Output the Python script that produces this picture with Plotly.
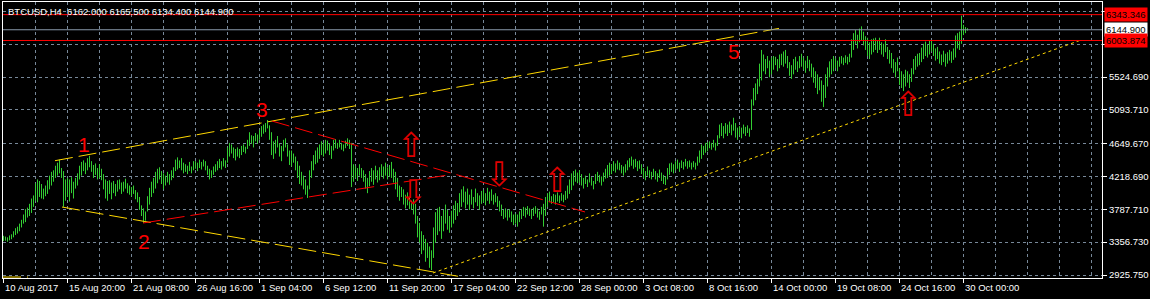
import plotly.graph_objects as go

# ---------------- data ----------------
bar_low = [
    3370, 3375, 3362, 3380, 3395, 3420, 3450, 3470, 3500, 3550, 3600, 3620, 3680, 3700, 3740, 3820,
    3900, 3880, 3950, 3930, 3920, 3960, 3990, 4050, 4100, 4150, 4200, 4230, 4260, 4200, 3820, 3900,
    3950, 3890, 4000, 3930, 4060, 4100, 4180, 4230, 4290, 4250, 4300, 4340, 4280, 4200, 4240, 4180,
    4200, 4170, 4050, 3930, 3900, 3990, 3920, 4000, 3960, 4020, 4050, 3990, 4020, 4060, 4000, 3980,
    3960, 3990, 3920, 3880, 3780, 3700, 3608, 3640, 3760, 3850, 3950, 4000, 4060, 4130, 4180, 4120,
    4050, 4100, 4140, 4110, 4170, 4200, 4290, 4310, 4330, 4300, 4260, 4280, 4250, 4290, 4260, 4300,
    4320, 4290, 4330, 4310, 4350, 4300, 4240, 4180, 4200, 4240, 4280, 4300, 4330, 4310, 4350, 4330,
    4400, 4480, 4520, 4460, 4430, 4480, 4460, 4500, 4540, 4520, 4580, 4620, 4650, 4600, 4680, 4650,
    4700, 4740, 4780, 4800, 4850, 4700, 4500, 4450, 4520, 4600, 4480, 4420, 4550, 4600, 4480, 4370,
    4350, 4400, 4300, 4200, 4120, 4100, 4050, 3980, 3937, 4050, 4200, 4300, 4380, 4400, 4450, 4500,
    4480, 4520, 4560, 4500, 4450, 4560, 4590, 4580, 4600, 4570, 4550, 4590, 4620, 4580, 4080, 4150,
    4200, 4160, 4230, 4200, 4150, 4060, 4000, 4090, 4150, 4110, 4180, 4140, 4170, 4220, 4190, 4230,
    4180, 4220, 4200, 4140, 4050, 3950, 3900, 3950, 3850, 3800, 3840, 3790, 3780, 3720, 3600, 3420,
    3350, 3200, 3250, 3100, 3150, 3020, 2991, 3150, 3350, 3450, 3500, 3400, 3500, 3600, 3520, 3480,
    3550, 3600, 3650, 3700, 3750, 3820, 3880, 3800, 3850, 3780, 3850, 3800, 3880, 3830, 3780, 3860,
    3880, 3840, 3900, 3860, 3900, 3850, 3880, 3820, 3760, 3700, 3660, 3680, 3640, 3680, 3620, 3580,
    3600, 3560, 3620, 3660, 3700, 3680, 3720, 3700, 3660, 3700, 3730, 3680, 3650, 3720, 3560, 3700,
    3820, 3880, 3860, 3880, 3850, 3890, 3870, 3900, 3880, 3910, 3930, 3990, 4040, 4100, 4150, 4130,
    4140, 4100, 4060, 4120, 4080, 4140, 4100, 4050, 4120, 4160, 4140, 4100, 4150, 4190, 4200, 4230,
    4250, 4290, 4270, 4310, 4300, 4260, 4230, 4270, 4300, 4340, 4360, 4320, 4340, 4290, 4320, 4250,
    4200, 4170, 4230, 4200, 4180, 4220, 4180, 4150, 4200, 4160, 4120, 4107, 4180, 4240, 4280, 4260,
    4300, 4320, 4280, 4330, 4310, 4350, 4320, 4340, 4310, 4340, 4310, 4360, 4400, 4450, 4500, 4530,
    4550, 4590, 4570, 4600, 4560, 4620, 4720, 4750, 4720, 4780, 4750, 4790, 4760, 4820, 4730, 4700,
    4760, 4720, 4780, 4750, 4790, 4740, 4830, 5150, 5220, 5300, 5400, 5480, 5600, 5560, 5640, 5520,
    5560, 5620, 5680, 5600, 5640, 5680, 5660, 5700, 5640, 5540, 5500, 5560, 5620, 5590, 5640, 5660,
    5620, 5580, 5640, 5600, 5520, 5450, 5380, 5300, 5350, 5200, 5130, 5250, 5400, 5520, 5560, 5600,
    5640, 5600, 5660, 5700, 5680, 5710, 5690, 5720, 5780, 5880, 5960, 5900, 5980, 6000, 5940, 5880,
    5800, 5760, 5820, 5850, 5880, 5840, 5880, 5820, 5790, 5850, 5760, 5700, 5640, 5580, 5520, 5600,
    5420, 5380, 5340, 5400, 5450, 5380, 5460, 5560, 5620, 5660, 5680, 5720, 5760, 5800, 5780, 5820,
    5860, 5800, 5740, 5760, 5700, 5680, 5720, 5660, 5700, 5740, 5710, 5750, 5780, 5900, 5880, 5960,
    6075, 6100, 6134.4,
]
bar_high = [
    3440, 3430, 3420, 3445, 3460, 3500, 3540, 3560, 3600, 3650, 3720, 3790, 3810, 3860, 3930, 3970,
    4130, 4180, 4160, 4120, 4060, 4100, 4170, 4230, 4280, 4300, 4360, 4400, 4440, 4330, 4290, 4180,
    4200, 4180, 4210, 4150, 4200, 4260, 4360, 4410, 4430, 4400, 4460, 4490, 4420, 4370, 4390, 4330,
    4380, 4320, 4250, 4180, 4160, 4170, 4140, 4160, 4120, 4170, 4180, 4140, 4150, 4190, 4130, 4100,
    4080, 4100, 4040, 4010, 3950, 3840, 3800, 3760, 3960, 4070, 4150, 4200, 4280, 4320, 4340, 4290,
    4260, 4230, 4280, 4250, 4300, 4340, 4440, 4470, 4430, 4460, 4400, 4380, 4360, 4410, 4350, 4420,
    4420, 4400, 4440, 4410, 4440, 4420, 4360, 4320, 4300, 4350, 4380, 4420, 4450, 4420, 4460, 4430,
    4600, 4660, 4640, 4600, 4580, 4600, 4580, 4620, 4640, 4610, 4700, 4800, 4760, 4750, 4790, 4770,
    4830, 4880, 4900, 4920, 4960, 4890, 4800, 4680, 4700, 4750, 4650, 4620, 4700, 4720, 4640, 4560,
    4560, 4520, 4480, 4420, 4360, 4280, 4230, 4180, 4100, 4300, 4420, 4500, 4560, 4600, 4640, 4680,
    4660, 4700, 4690, 4650, 4620, 4700, 4710, 4660, 4700, 4660, 4640, 4690, 4720, 4700, 4660, 4380,
    4360, 4330, 4380, 4330, 4300, 4250, 4200, 4290, 4330, 4300, 4360, 4300, 4340, 4380, 4350, 4400,
    4340, 4370, 4410, 4320, 4280, 4200, 4100, 4080, 4050, 3980, 4010, 3950, 3900, 3920, 3860, 3700,
    3610, 3500, 3450, 3400, 3350, 3300, 3250, 3550, 3750, 3800, 3820, 3700, 3780, 3850, 3780, 3700,
    3770, 3840, 3900, 3870, 4000, 4050, 4090, 4020, 4060, 3980, 4050, 3950, 4060, 4000, 3970, 4030,
    4040, 4000, 4070, 4020, 4050, 3980, 4000, 3960, 3900, 3850, 3780, 3800, 3780, 3790, 3760, 3720,
    3730, 3720, 3760, 3790, 3820, 3810, 3830, 3800, 3790, 3810, 3830, 3800, 3760, 3820, 3860, 3950,
    4000, 4020, 3960, 3990, 3980, 4010, 3970, 4000, 3980, 4030, 4100, 4180, 4260, 4290, 4310, 4270,
    4300, 4250, 4200, 4230, 4180, 4260, 4210, 4160, 4250, 4280, 4240, 4220, 4270, 4320, 4370, 4400,
    4380, 4420, 4390, 4430, 4400, 4370, 4350, 4380, 4430, 4460, 4480, 4440, 4450, 4420, 4430, 4380,
    4330, 4290, 4350, 4300, 4280, 4320, 4290, 4260, 4310, 4270, 4240, 4220, 4330, 4390, 4400, 4380,
    4420, 4440, 4400, 4430, 4410, 4450, 4420, 4430, 4400, 4420, 4400, 4480, 4560, 4640, 4620, 4660,
    4670, 4680, 4660, 4700, 4660, 4760, 4900, 4920, 4880, 4920, 4900, 4940, 4900, 4990, 4920, 4860,
    4880, 4860, 4900, 4870, 4890, 4850, 5230, 5380, 5440, 5500, 5700, 5880, 5820, 5760, 5800, 5740,
    5780, 5800, 5790, 5760, 5820, 5830, 5860, 5880, 5800, 5720, 5680, 5760, 5790, 5730, 5800, 5830,
    5780, 5740, 5800, 5750, 5700, 5650, 5600, 5560, 5520, 5480, 5420, 5560, 5650, 5730, 5760, 5800,
    5770, 5740, 5790, 5800, 5780, 5810, 5790, 5830, 6020, 6100, 6140, 6080, 6160, 6190, 6120, 6060,
    6040, 5980, 6020, 6030, 6040, 6010, 6040, 5980, 5960, 6020, 5920, 5880, 5840, 5760, 5720, 5780,
    5640, 5600, 5560, 5620, 5600, 5560, 5640, 5760, 5800, 5830, 5840, 5910, 5960, 5990, 5950, 6000,
    6010, 5960, 5900, 5920, 5860, 5820, 5870, 5830, 5850, 5880, 5860, 5900, 6070, 6100, 6120, 6330,
    6210, 6180, 6165.5,
]

x_tick_labels = ["10 Aug 2017", "15 Aug 20:00", "21 Aug 08:00", "26 Aug 16:00", "1 Sep 04:00",
                 "6 Sep 12:00", "11 Sep 20:00", "17 Sep 04:00", "22 Sep 12:00", "28 Sep 00:00",
                 "3 Oct 08:00", "8 Oct 16:00", "14 Oct 00:00", "19 Oct 08:00", "24 Oct 16:00",
                 "30 Oct 00:00"]
x_tick_bars = [0, 32, 64, 96, 128, 160, 192, 224, 256, 288, 320, 352, 384, 416, 448, 480]
x_minor_bars = [16, 48, 80, 112, 144, 176, 208, 240, 272, 304, 336, 368, 400, 432, 464,
                496, 512, 528, 544]

# price grid levels; the two top labels are hidden under the price boxes in the reference
y_grid_values = [2925.75, 3356.73, 3787.71, 4218.69, 4649.67, 5093.71, 5524.69, 5955.67, 6386.65]
y_tick_labels = ["2925.750", "3356.730", "3787.710", "4218.690", "4649.670",
                 "5093.710", "5524.690", "", ""]

title_text = "BTCUSD,H4\u00a0 6162.000 6165.500 6134.400 6144.900"

level_prices = [6343.346, 6144.900, 6003.874]
level_labels = ["6343.346", "6144.900", "6003.874"]

# trend lines: (bar index, price) anchors
upper_channel_x = [25.75, 387.75]
upper_channel_p = [4426, 6163]
lower_channel_x = [29.25, 229.25]
lower_channel_p = [3818, 2900]
wedge_top_x = [134.25, 290.75]
wedge_top_p = [4947, 3753]
wedge_bottom_x = [69.75, 222.25]
wedge_bottom_p = [3608, 4238]
support_x = [214.75, 538.75]
support_p = [2952, 6010]
edge_x = [-0.25, 12.25]
edge_p = [2899, 2899]

wave_text = ["1", "2", "3", "5"]
wave_x = [40.25, 70.25, 129.25, 365.25]
wave_p = [4645, 3372, 5092, 5866]

arrow_text = ["\u21e7", "\u21e9", "\u21e9", "\u21e7", "\u21e7"]
arrow_x = [203.75, 204.75, 247.75, 276.75, 452.25]
arrow_p = [4580, 3963, 4212, 4133, 5118]

# ---------------- style ----------------
BG = "#000000"
BAR = "#32cd32"
GRID = "#778899"
GOLD = "#ffd700"
RED = "#ff0000"
FONT = "Liberation Sans"
FS = 9.5

fig = go.Figure()

n = min(len(bar_low), len(bar_high))
xs, ys = [], []
for i in range(n):
    xs += [i, i, None]
    ys += [bar_low[i], bar_high[i], None]
fig.add_trace(go.Scatter(x=xs, y=ys, mode="lines", line=dict(color=BAR, width=1),
                         hoverinfo="skip"))

def add_line(x, p, color, dash):
    fig.add_trace(go.Scatter(x=x, y=p, mode="lines",
                             line=dict(color=color, width=1, dash=dash), hoverinfo="skip"))

add_line(upper_channel_x, upper_channel_p, GOLD, "18px,6px")
add_line(lower_channel_x, lower_channel_p, GOLD, "18px,6px")
add_line(edge_x, edge_p, GOLD, "18px,6px")
add_line(wedge_top_x, wedge_top_p, RED, "18px,6px")
add_line(wedge_bottom_x, wedge_bottom_p, RED, "18px,6px")
add_line(support_x, support_p, GOLD, "3px,3px")

fig.add_trace(go.Scatter(x=arrow_x, y=arrow_p, mode="text", text=arrow_text,
                         textfont=dict(family="DejaVu Sans", size=34, color="#dd0000"),
                         textposition="middle center", hoverinfo="skip"))

level_colors = [RED, "#8899aa", RED]
level_bg = [RED, "#ffffff", RED]
for p, c in zip(level_prices, level_colors):
    fig.add_shape(type="line", xref="paper", x0=0, x1=1, yref="y", y0=p, y1=p,
                  line=dict(color=c, width=1))

ann = []
ann.append(dict(xref="paper", yref="paper", x=0, y=1, xanchor="left", yanchor="top",
                xshift=4, yshift=-3, text=title_text, showarrow=False, borderpad=0,
                font=dict(family=FONT, size=FS, color="#ffffff")))
for b, t in zip(x_tick_bars, x_tick_labels):
    ann.append(dict(xref="x", yref="paper", x=b, y=0, xanchor="left", yanchor="middle",
                    yshift=-9.5, text=t, showarrow=False, borderpad=0,
                    font=dict(family=FONT, size=FS, color="#ffffff")))
for p, t, bg in zip(level_prices, level_labels, level_bg):
    ann.append(dict(xref="paper", yref="y", x=1, y=p, xanchor="left", yanchor="middle",
                    xshift=2, text=t, showarrow=False, borderpad=1, bgcolor=bg,
                    font=dict(family=FONT, size=FS, color="#000000")))
for t, x, p in zip(wave_text, wave_x, wave_p):
    ann.append(dict(xref="x", yref="y", x=x, y=p, xanchor="center", yanchor="middle",
                    text=t, showarrow=False, borderpad=0,
                    font=dict(family=FONT, size=21, color=RED)))

fig.update_layout(
    width=1150, height=299,
    margin=dict(l=3, r=48, t=2, b=21, pad=0),
    paper_bgcolor=BG, plot_bgcolor=BG,
    showlegend=False,
    annotations=ann,
    font=dict(family=FONT, size=FS, color="#ffffff"),
)
fig.update_xaxes(
    range=[-0.25, 549.25], tickvals=x_tick_bars, ticktext=[""] * len(x_tick_bars),
    showticklabels=False, ticks="outside", ticklen=4, tickcolor="#ffffff", tickwidth=1,
    showgrid=True, gridcolor=GRID, griddash="3px,3px", gridwidth=1,
    minor=dict(tickvals=x_minor_bars, showgrid=True, gridcolor=GRID, griddash="3px,3px",
               gridwidth=1, ticks=""),
    showline=True, linecolor="#ffffff", linewidth=1, mirror=True, zeroline=False,
)
fig.update_yaxes(
    side="right", range=[2886.37, 6509.15],
    tickvals=y_grid_values, ticktext=y_tick_labels,
    ticks="outside", ticklen=4, tickcolor="#ffffff", tickwidth=1,
    tickfont=dict(family=FONT, size=FS, color="#ffffff"),
    showgrid=True, gridcolor=GRID, griddash="3px,3px", gridwidth=1,
    showline=True, linecolor="#ffffff", linewidth=1, mirror=True, zeroline=False,
)

fig.write_html("out.html")
